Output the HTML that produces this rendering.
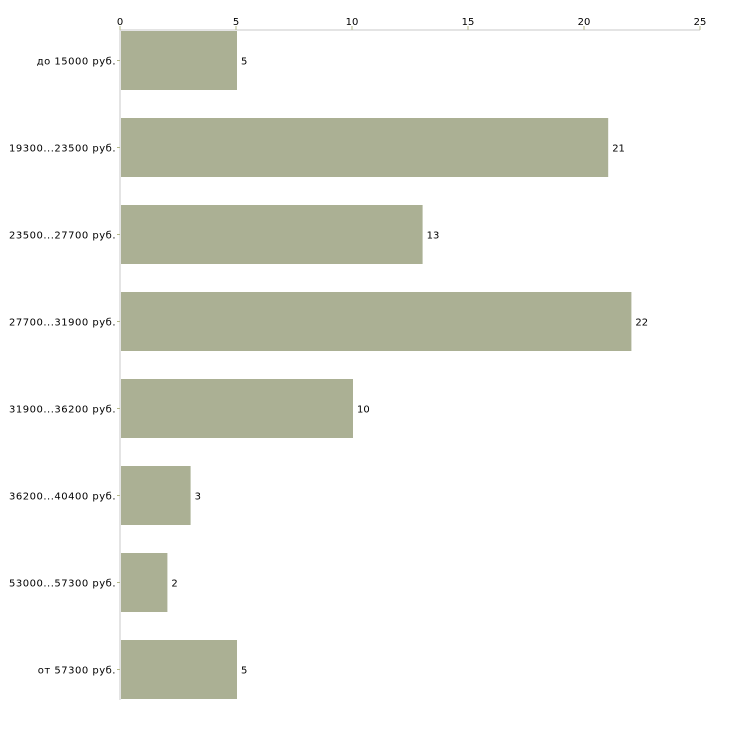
<!DOCTYPE html>
<html><head><meta charset="utf-8"><style>
body{margin:0;background:#fff;width:730px;height:730px;overflow:hidden}
svg text{font-family:"DejaVu Sans","Liberation Sans",sans-serif;font-size:10px;fill:#000}
svg text.cat{letter-spacing:0.5px}
</style></head><body>
<svg id="chart" width="730" height="730"></svg>
<script>
const categories=["до 15000 руб.","19300...23500 руб.","23500...27700 руб.","27700...31900 руб.","31900...36200 руб.","36200...40400 руб.","53000...57300 руб.","от 57300 руб."];
const values=[5,21,13,22,10,3,2,5];
const ticks=[0,5,10,15,20,25];
const svgEl=document.getElementById('chart');
const NS='http://www.w3.org/2000/svg';
const x0=120,x1=700,topY=30,step=87,barH=59;
const xs=v=>x0+(v/25)*(x1-x0);
function mk(t,a){const e=document.createElementNS(NS,t);for(const k in a)e.setAttribute(k,a[k]);svgEl.appendChild(e);return e;}
let ax=mk('line',{x1:x0,y1:topY,x2:x1,y2:topY,stroke:'#c8c8c8'});


let ay=mk('line',{x1:x0,y1:topY,x2:x0,y2:700,stroke:'#c8c8c8'});


ticks.forEach(t=>{
 const x=xs(t);
 let l=mk('line',{x1:x,y1:topY-4,x2:x,y2:topY,stroke:'#b5b98a'});
 
 
 let tx=mk('text',{x:x,y:topY-5,'text-anchor':'middle'});tx.textContent=t;
 
 
});
categories.forEach((c,i)=>{
 const y=topY+1+i*step, cy=y+barH/2;
 let r=mk('rect',{x:x0+1,y:y,width:xs(values[i])-x0,height:barH,fill:'#abb094'});
 
 
 let l=mk('line',{x1:x0-3,y1:cy,x2:x0,y2:cy,stroke:'#b5b98a'});
 
 
 let t=mk('text',{x:x0-4,y:cy+4,'text-anchor':'end','class':'cat'});t.textContent=c;
 
 
 let v=mk('text',{x:xs(values[i])+5,y:cy+4});v.textContent=values[i];
 
 
});
</script>
</body></html>
